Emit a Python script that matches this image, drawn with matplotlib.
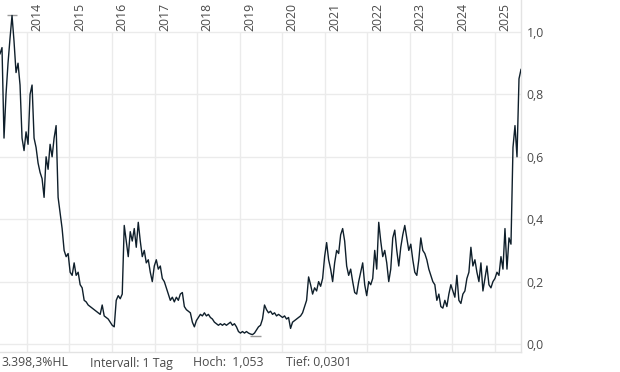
import matplotlib
matplotlib.use('Agg')
import matplotlib.pyplot as plt
import matplotlib.ticker as mticker
import numpy as np
import pandas as pd

prices = [
    0.93, 0.95, 0.66, 0.80, 0.90, 0.98, 1.053, 0.97, 0.87, 0.90,
    0.83, 0.66, 0.62, 0.68, 0.64, 0.80, 0.83, 0.66, 0.63, 0.58,
    0.55, 0.53, 0.47, 0.60, 0.56, 0.64, 0.60, 0.66, 0.70, 0.47,
    0.42, 0.37, 0.30, 0.28, 0.29, 0.23, 0.22, 0.26, 0.22, 0.23,
    0.19, 0.18, 0.14, 0.135, 0.125, 0.12, 0.115, 0.11, 0.105, 0.10,
    0.095, 0.125, 0.09, 0.085, 0.08, 0.07, 0.06, 0.055, 0.14, 0.155,
    0.145, 0.16, 0.38, 0.33, 0.28, 0.36, 0.33, 0.37, 0.31, 0.39,
    0.33, 0.28, 0.30, 0.26, 0.27, 0.23, 0.20, 0.25, 0.27, 0.24,
    0.25, 0.21, 0.20, 0.18, 0.16, 0.14, 0.15, 0.135, 0.15, 0.14,
    0.16, 0.165, 0.12, 0.11, 0.105, 0.10, 0.07, 0.055, 0.075, 0.085,
    0.095, 0.09, 0.10, 0.09, 0.095, 0.085, 0.08, 0.07, 0.065, 0.06,
    0.065, 0.06, 0.065, 0.06, 0.065, 0.07, 0.06, 0.065, 0.055, 0.04,
    0.035, 0.04, 0.035, 0.04, 0.035, 0.032, 0.0301, 0.035, 0.045, 0.055,
    0.06, 0.08, 0.125, 0.11, 0.10, 0.105, 0.095, 0.10, 0.09, 0.095,
    0.09, 0.085, 0.09, 0.08, 0.085, 0.05, 0.07, 0.075, 0.08, 0.085,
    0.09, 0.10, 0.12, 0.14, 0.215, 0.19, 0.16, 0.18, 0.17, 0.20,
    0.185, 0.21, 0.28, 0.325, 0.27, 0.24, 0.20, 0.26, 0.30, 0.29,
    0.35, 0.37, 0.33, 0.25, 0.22, 0.24, 0.20, 0.165, 0.16, 0.20,
    0.23, 0.26, 0.19, 0.155, 0.20, 0.19, 0.21, 0.30, 0.24, 0.39,
    0.33, 0.28, 0.30, 0.26, 0.20, 0.24, 0.34, 0.365, 0.30, 0.25,
    0.31, 0.35, 0.38, 0.34, 0.30, 0.32, 0.27, 0.23, 0.22, 0.27,
    0.34, 0.30, 0.29, 0.27, 0.24, 0.22, 0.20, 0.19, 0.14, 0.16,
    0.12, 0.115, 0.14, 0.12, 0.16, 0.19, 0.17, 0.15, 0.22, 0.14,
    0.13, 0.16, 0.17, 0.21, 0.23, 0.31, 0.25, 0.27, 0.23, 0.20,
    0.26, 0.17, 0.21, 0.25, 0.19, 0.18, 0.20, 0.21, 0.23, 0.22,
    0.28, 0.24, 0.37, 0.24, 0.34, 0.32, 0.63, 0.70, 0.60, 0.85,
    0.88,
]
start_date, end_date = '2013-05-16', '2025-08-12'
years = list(range(2014, 2026))
y_ticks = [0.0, 0.2, 0.4, 0.6, 0.8, 1.0]
high, low = 1.053, 0.0301
hl_text = '3.398,3%HL'
interval_text = 'Intervall: 1 Tag'

plt.rcParams['font.family'] = ['Open Sans', 'DejaVu Sans']
text_col = '#4a4a4a'
grid_col = '#ebebeb'
line_col = '#0f1f2b'

dates = pd.date_range(start_date, end_date, periods=len(prices))
year_dates = [pd.Timestamp(f'{y}-01-01') for y in years]

W, H = 620, 372
fig = plt.figure(figsize=(W / 100, H / 100), dpi=100)
ax = fig.add_axes([0, 1 - 352 / H, 521 / W, 352 / H])

# y-Skala: 0 bei Pixel 344, 1 bei Pixel 32
ymin = -8 / 312
ymax = 1 + 32 / 312
ax.set_ylim(ymin, ymax)
ax.set_xlim(dates[0], dates[-1])

for yv in y_ticks:
    ax.axhline(yv, color=grid_col, lw=1, zorder=0)
ax.vlines(year_dates, ymin, 1.0, color=grid_col, lw=1, zorder=0)

ax.plot(dates, prices, color=line_col, lw=1.0, zorder=3)

# Hoch / Tief Markierungen
i_hi = int(np.argmax(prices))
i_lo = int(np.argmin(prices))
ax.hlines(high, dates[i_hi] - pd.Timedelta(days=45), dates[i_hi] + pd.Timedelta(days=45),
          color='#9a9a9a', lw=1, zorder=2)
ax.hlines(low - 0.006, dates[i_lo] - pd.Timedelta(days=20), dates[i_lo] + pd.Timedelta(days=70),
          color='#9a9a9a', lw=1, zorder=2)

for yd, y in zip(year_dates, years):
    ax.annotate(str(y), xy=(yd, 1.0), xytext=(2.6, 1), textcoords='offset points',
                rotation=90, ha='left', va='bottom', fontsize=8.8, color=text_col)

ax.yaxis.tick_right()
ax.set_yticks(y_ticks)
ax.yaxis.set_major_formatter(mticker.FuncFormatter(lambda v, p: f'{v:.1f}'.replace('.', ',')))
ax.tick_params(axis='y', length=0, pad=4, labelsize=8.8, labelcolor=text_col)
ax.set_xticks([])

for s in ['top', 'left']:
    ax.spines[s].set_visible(False)
for s in ['right', 'bottom']:
    ax.spines[s].set_color('#e3e3e3')
    ax.spines[s].set_linewidth(1)
ax.patch.set_alpha(0)

ty = 1 - 363 / H
fig.text(1 / W, ty, hl_text, fontsize=8.8, color=text_col, va='center')
fig.text(90 / W, ty, interval_text, fontsize=8.8, color=text_col, va='center')
fig.text(193 / W, ty, 'Hoch:  ' + f'{high:.3f}'.replace('.', ','), fontsize=8.8,
         color=text_col, va='center')
fig.text(286 / W, ty, 'Tief: ' + f'{low:.4f}'.replace('.', ','), fontsize=8.8,
         color=text_col, va='center')

fig.savefig('out.png', dpi=100)
